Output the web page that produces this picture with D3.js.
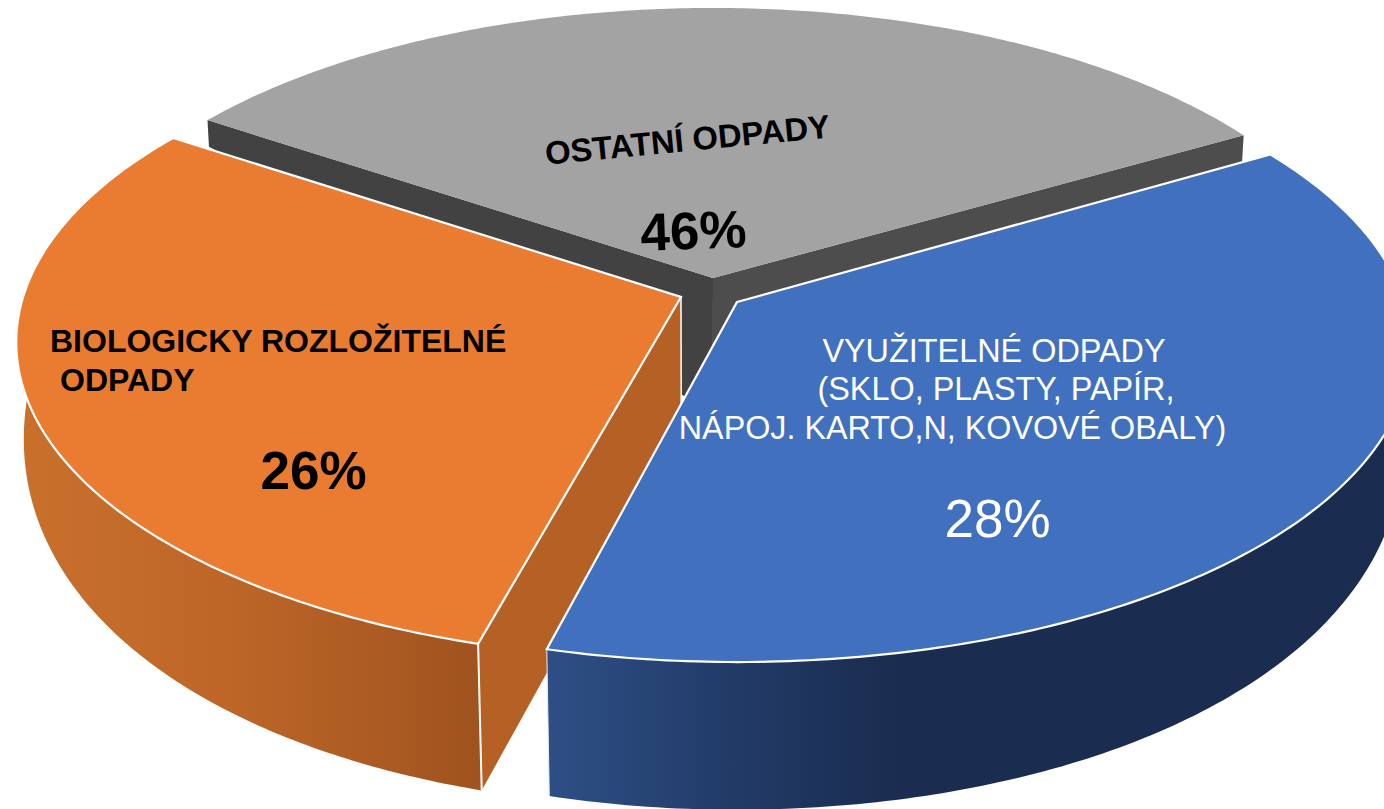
<!DOCTYPE html>
<html><head><meta charset="utf-8">
<script src="https://cdn.jsdelivr.net/npm/d3@7/dist/d3.min.js"></script>
<style>html,body{margin:0;padding:0;background:#fff;overflow:hidden}svg{display:block}text{font-family:"Liberation Sans",Arial,sans-serif}</style>
</head><body><svg id="c" width="1384" height="809"></svg>
<script>
// Slice names and the printed percentages
const categories = ["OSTATNÍ ODPADY", "VYUŽITELNÉ ODPADY", "BIOLOGICKY ROZLOŽITELNÉ"];
const printedPercent = ["46%", "28%", "26%"];
// Share of the circle each slice visibly occupies in the drawing (read from its edges)
const drawnShare = [32.45, 37.5, 30.05];
const topColors = ["#a3a3a3", "#4170be", "#ea7c31"];

const rad = d => d * Math.PI / 180;
const svg = d3.select("#c");
const rx = 654, ry = 308.6, k = 1 / 7;
const apexes = [{x:713,y:278,sx:1,sy:1},{x:737,y:302,sx:1.02,sy:1},{x:681,y:297,sx:1.006,sy:1.005}];
const depth = Y => 88 - 92.9 * Y - 33.2 * Y * Y;
const pie = d3.pie().sort(null).startAngle(rad(-56.5)).endAngle(rad(303.5));
const arcs = pie(drawnShare);

function upper(a, c){ const X=Math.sin(a),Y=Math.cos(a),s=1/(1+k*Y);
  return [c.x+rx*c.sx*X*s, c.y-ry*c.sy*Y*s]; }
function low(p, h){ return [p[0]-(p[0]-700)*h*0.00011, p[1]+h]; }
function bot(a, c){ return low(upper(a,c), depth(Math.cos(a))); }
const line = d3.line();
const samples = (a0,a1) => d3.range(0,181).map(i => a0+(a1-a0)*i/180);
const poly = pts => line(pts) + "Z";

const defs = svg.append("defs");
function grad(id, x1, x2, stops){
  const g = defs.append("linearGradient").attr("id",id).attr("gradientUnits","userSpaceOnUse")
    .attr("x1",x1).attr("x2",x2).attr("y1",0).attr("y2",0);
  stops.forEach(s => g.append("stop").attr("offset",s[0]).attr("stop-color",s[1]));
}
grad("gOrange", 20, 480, [[0,"#c9702c"],[0.45,"#bd6628"],[1,"#a0531f"]]);
grad("gBlue", 545, 900, [[0,"#2e4f86"],[0.55,"#213a66"],[1,"#1a2c4f"]]);

const [gray, blue, orange] = arcs;
const G = apexes[0], B = apexes[1], O = apexes[2];
const APEX_DEPTH = 133;
// small per-slice corrections so each slice's corners land where the picture has them
const blueStart = blue.startAngle - rad(1.2), blueEnd = blue.endAngle - rad(1.1),
      orangeStart = orange.startAngle + rad(0.1), orangeEnd = orange.endAngle + rad(0.1);

// Gray slice: two inner walls, then top
svg.append("path").attr("d", poly([[G.x,G.y], upper(gray.startAngle,G), bot(gray.startAngle,G), low([G.x,G.y],APEX_DEPTH)])).attr("fill","#424242");
svg.append("path").attr("d", poly([[G.x,G.y], upper(gray.endAngle,G), bot(gray.endAngle,G), low([G.x,G.y],APEX_DEPTH)])).attr("fill","#4d4d4d");
svg.append("path").attr("d", poly([[G.x,G.y], ...samples(gray.startAngle,gray.endAngle).map(a=>upper(a,G))])).attr("fill",topColors[0]);

// Orange slice
const oS = samples(orangeStart, orangeEnd);
svg.append("path").attr("d", poly([...oS.map(a=>upper(a,O)), ...oS.slice().reverse().map(a=>bot(a,O))])).attr("fill","url(#gOrange)");
svg.append("path").attr("d", poly([[O.x,O.y], upper(orangeStart,O), bot(orangeStart,O), low([O.x,O.y],APEX_DEPTH)])).attr("fill","#b56024");
svg.append("path").attr("d", line([upper(orangeStart,O), bot(orangeStart,O)])).attr("stroke","#fff").attr("stroke-width",2).attr("fill","none");
svg.append("path").attr("d", line([[O.x,O.y], low([O.x,O.y],APEX_DEPTH)])).attr("stroke","#fff").attr("stroke-width",1.5).attr("fill","none");
svg.append("path").attr("d", poly([[O.x,O.y], ...oS.map(a=>upper(a,O))])).attr("fill",topColors[2]).attr("stroke","#fff").attr("stroke-width",2.2);

// Blue slice
const bS = samples(blueStart, blueEnd);
svg.append("path").attr("d", poly([...bS.map(a=>upper(a,B)), ...bS.slice().reverse().map(a=>bot(a,B))])).attr("fill","url(#gBlue)");
svg.append("path").attr("d", line([upper(blueEnd,B), bot(blueEnd,B)])).attr("stroke","#e8ecf4").attr("stroke-width",1).attr("fill","none");
svg.append("path").attr("d", poly([[B.x,B.y], ...bS.map(a=>upper(a,B))])).attr("fill",topColors[1]).attr("stroke","#fff").attr("stroke-width",2.2);

// Labels
function label(x,y,str,size,weight,fill,anchor,rot){
  const t = svg.append("text").attr("x",x).attr("y",y).text(str)
   .attr("font-size",size).attr("font-weight",weight).attr("fill",fill).attr("text-anchor",anchor||"middle");
  if(rot) t.attr("transform",`rotate(${rot} ${x} ${y})`);
  return t;
}
label(688.5,151,categories[0],32.8,"bold","#000","middle",-5.5);
label(694,249,printedPercent[0],53,"bold","#000","middle",-2);
label(50,352,categories[2],32,"bold","#000","start");
label(60,391,"ODPADY",32,"bold","#000","start");
label(313.5,489,printedPercent[2],53,"bold","#000");
label(994,362,categories[1],32.4,"normal","#fff");
label(996,400,"(SKLO, PLASTY, PAPÍR,",32.4,"normal","#fff");
label(952.5,439,"NÁPOJ. KARTO,N, KOVOVÉ OBALY)",32.3,"normal","#fff");
label(997.5,537,printedPercent[1],53,"normal","#fff");
</script></body></html>
